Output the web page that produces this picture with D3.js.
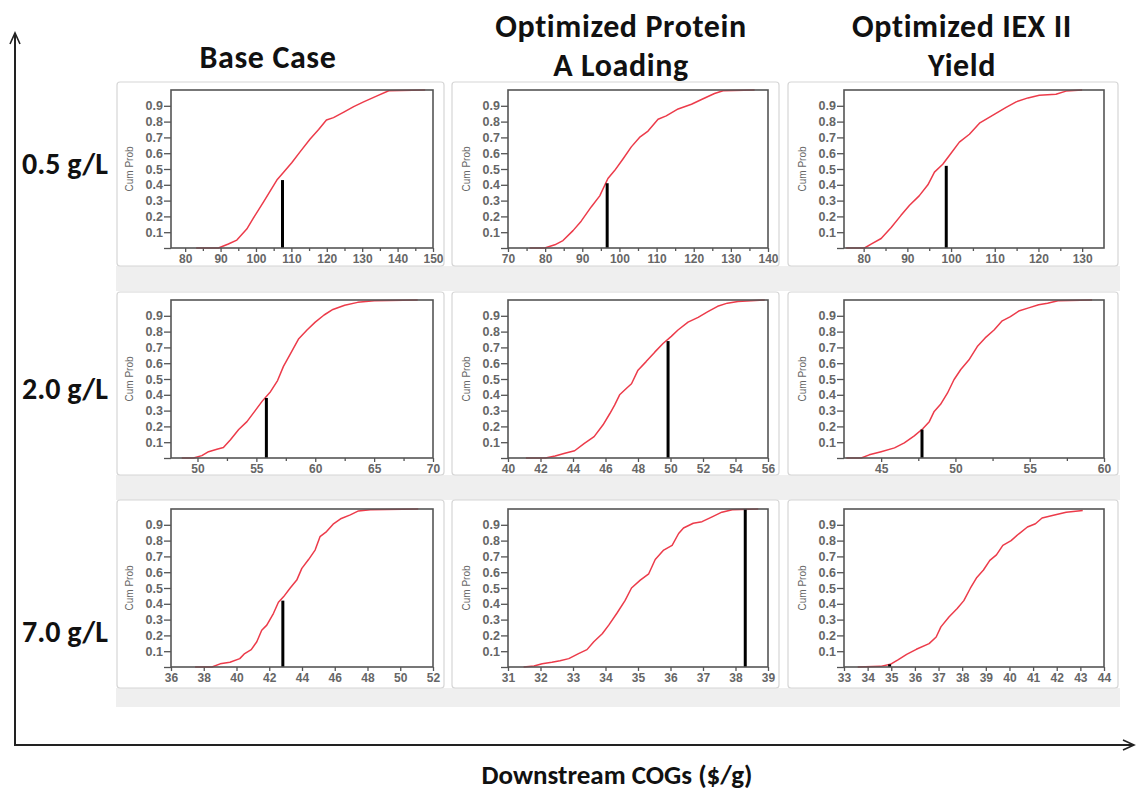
<!DOCTYPE html>
<html>
<head>
<meta charset="utf-8">
<script src="https://cdn.jsdelivr.net/npm/d3@7"></script>
<style>
  html, body { margin: 0; padding: 0; background: #fff; }
  svg { display: block; }
</style>
</head>
<body>
<svg id="chart" width="1136" height="791"></svg>
<script>
// ---------- data ----------
const colTitles = [["Base Case"], ["Optimized Protein", "A Loading"], ["Optimized IEX II", "Yield"]];
const rowLabels = ["0.5 g/L", "2.0 g/L", "7.0 g/L"];
const xAxisTitle = "Downstream COGs ($/g)";
const yAxisLabel = "Cum Prob";
const yTicks = [0.1, 0.2, 0.3, 0.4, 0.5, 0.6, 0.7, 0.8, 0.9];

// cumulative probability curves [COGs, cumProb], row-major (row = titer, col = scenario)
const cdfBase05 = [[83.1,0],[89.4,0],[92.2,0.025],[94.6,0.05],[97.4,0.12],[99.3,0.19],[102.1,0.29],[104.0,0.36],[105.9,0.43],[107.8,0.48],[110.1,0.54],[112.5,0.61],[115.3,0.69],[117.7,0.75],[119.9,0.81],[121.9,0.825],[124.8,0.86],[127.6,0.895],[130.4,0.925],[134.2,0.963],[137.5,0.995],[140.8,0.997],[147.8,1.0]];
const cdfProtA05 = [[75.8,0],[79.9,0],[82.6,0.02],[84.8,0.047],[87.5,0.11],[89.7,0.17],[92.4,0.26],[94.7,0.33],[96.9,0.44],[98.7,0.49],[101.0,0.565],[103.2,0.64],[105.4,0.70],[107.7,0.74],[110.4,0.815],[112.6,0.836],[115.8,0.88],[119.4,0.91],[122.1,0.94],[125.6,0.978],[127.9,0.995],[136.4,1.0]];
const cdfIex05 = [[76.0,0],[80.2,0],[81.7,0.025],[84.0,0.06],[86.3,0.13],[88.5,0.205],[90.5,0.27],[92.7,0.33],[94.7,0.40],[96.2,0.48],[98.1,0.53],[100.0,0.60],[101.9,0.67],[104.2,0.72],[106.5,0.79],[109.5,0.84],[112.6,0.89],[114.9,0.925],[117.6,0.95],[120.2,0.967],[124.0,0.973],[126.3,0.993],[130.0,1.0]];
const cdfBase20 = [[48.66,0],[49.66,0],[50.37,0.015],[50.94,0.04],[51.65,0.055],[52.2,0.066],[52.8,0.115],[53.5,0.18],[54.2,0.23],[54.9,0.30],[55.5,0.36],[56.2,0.42],[56.8,0.49],[57.3,0.58],[57.9,0.66],[58.6,0.755],[59.3,0.81],[60.0,0.86],[60.75,0.905],[61.5,0.94],[62.5,0.967],[63.6,0.985],[65.0,0.995],[68.7,1.0]];
const cdfProtA20 = [[41.1,0],[42.3,0],[42.9,0.013],[43.5,0.03],[44.1,0.046],[44.7,0.093],[45.3,0.135],[45.85,0.21],[46.26,0.28],[46.56,0.335],[46.87,0.40],[47.28,0.44],[47.6,0.47],[48.0,0.556],[48.5,0.61],[49.03,0.67],[49.54,0.725],[50.05,0.77],[50.46,0.81],[51.08,0.86],[51.7,0.89],[52.3,0.926],[52.9,0.96],[53.5,0.98],[54.15,0.99],[55.8,1.0]];
const cdfIex20 = [[42.66,0],[43.66,0],[44.2,0.02],[45.0,0.04],[45.9,0.064],[46.56,0.096],[47.23,0.14],[47.8,0.185],[48.24,0.23],[48.57,0.295],[49.0,0.34],[49.46,0.41],[49.9,0.495],[50.36,0.56],[50.9,0.62],[51.47,0.705],[52.0,0.76],[52.6,0.81],[53.15,0.868],[53.7,0.895],[54.26,0.93],[54.93,0.95],[55.6,0.97],[56.2,0.98],[56.9,0.995],[59.2,1.0]];
const cdfBase70 = [[37.47,0],[38.5,0],[39.0,0.02],[39.6,0.03],[40.2,0.053],[40.5,0.085],[40.9,0.11],[41.24,0.16],[41.54,0.233],[41.85,0.265],[42.26,0.34],[42.56,0.41],[42.87,0.444],[43.28,0.50],[43.68,0.55],[43.99,0.624],[44.4,0.68],[44.8,0.74],[45.1,0.825],[45.5,0.857],[45.9,0.904],[46.4,0.94],[46.95,0.963],[47.45,0.988],[48.17,0.995],[51.1,1.0]];
const cdfProtA70 = [[31.48,0],[31.8,0.006],[32.05,0.02],[32.35,0.03],[32.6,0.04],[32.87,0.053],[33.17,0.085],[33.43,0.11],[33.64,0.16],[33.9,0.21],[34.1,0.265],[34.35,0.34],[34.6,0.42],[34.8,0.50],[35.07,0.55],[35.33,0.59],[35.53,0.68],[35.79,0.74],[36.05,0.77],[36.25,0.845],[36.4,0.88],[36.7,0.91],[36.97,0.92],[37.28,0.95],[37.58,0.98],[37.9,0.995],[38.7,1.0]];
const cdfIex70 = [[33.58,0],[34.55,0.004],[34.96,0.017],[35.3,0.047],[35.65,0.08],[36.06,0.112],[36.6,0.148],[36.9,0.19],[37.1,0.254],[37.44,0.317],[37.79,0.37],[38.07,0.42],[38.34,0.497],[38.62,0.567],[38.9,0.614],[39.17,0.675],[39.45,0.71],[39.72,0.77],[40.07,0.80],[40.4,0.843],[40.76,0.886],[41.1,0.907],[41.38,0.943],[41.86,0.96],[42.4,0.98],[43.1,0.99]];

// marker (black bar) for each panel: COGs value and cum prob height
const markerX = [107.5, 96.7, 98.9, 55.85, 49.85, 47.75, 42.83, 38.3, 34.93];
const markerP = [0.43, 0.41, 0.52, 0.38, 0.74, 0.18, 0.42, 1.0, 0.017];

// x axis domains and ticks per panel
const xDomains = [[76,150],[70,140],[75.5,135],[47.75,70],[40,56],[42.5,60],[36,52],[31,39],[33,44]];
const xTickLabels = [
  [80,90,100,110,120,130,140,150],
  [70,80,90,100,110,120,130,140],
  [80,90,100,110,120,130],
  [50,55,60,65,70],
  [40,42,44,46,48,50,52,54,56],
  [45,50,55,60],
  [36,38,40,42,44,46,48,50,52],
  [31,32,33,34,35,36,37,38,39],
  [33,34,35,36,37,38,39,40,41,42,43,44]
];
const xMinorTicks = [
  [85,95,105,115,125,135,145],
  [75,85,95,105,115,125,135],
  [85,95,105,115,125],
  [52.5,57.5,62.5,67.5],
  [],
  [47.5,52.5,57.5],
  [], [], []
];

const curves = [cdfBase05, cdfProtA05, cdfIex05, cdfBase20, cdfProtA20, cdfIex20, cdfBase70, cdfProtA70, cdfIex70];

// ---------- layout ----------
const svg = d3.select("#chart");
const plotLeft = [171, 508, 844], plotRight = [433, 768, 1104];
const plotTop = [90, 300, 509], plotBottom = [248, 458, 667];
const boxLeft = [117, 452, 788], boxRight = [444, 779, 1118];
const boxTop = [82, 292, 500], boxBottom = [266, 475, 688];
const titleFont = "Calibri, Carlito, Lato, 'Open Sans', sans-serif";
const smallFont = "Arial, 'Liberation Sans', sans-serif";

// gray strips between rows
const strips = [[266, 291], [475, 500], [688, 707]];
svg.selectAll("rect.strip").data(strips).join("rect")
  .attr("class", "strip")
  .attr("x", 116).attr("width", 1004)
  .attr("y", d => d[0]).attr("height", d => d[1] - d[0])
  .attr("fill", "#efefef");

// panel boxes
for (let r = 0; r < 3; r++) {
  for (let c = 0; c < 3; c++) {
    svg.append("rect")
      .attr("x", boxLeft[c]).attr("y", boxTop[r])
      .attr("width", boxRight[c] - boxLeft[c]).attr("height", boxBottom[r] - boxTop[r])
      .attr("rx", 3)
      .attr("fill", "#fff").attr("stroke", "#d6d6d6").attr("stroke-width", 1.2);
  }
}

// panels
curves.forEach((data, i) => {
  const r = Math.floor(i / 3), c = i % 3;
  const x = d3.scaleLinear().domain(xDomains[i]).range([plotLeft[c], plotRight[c]]);
  const y = d3.scaleLinear().domain([0, 1]).range([plotBottom[r], plotTop[r]]);
  const g = svg.append("g");

  // y axis
  const ya = g.append("g").attr("transform", `translate(${plotLeft[c]},0)`)
    .call(d3.axisLeft(y).tickValues([0].concat(yTicks)).tickSize(7).tickPadding(1)
      .tickFormat(d => d === 0 ? "" : d3.format(".1f")(d)));
  ya.select(".domain").remove();
  ya.selectAll("line").attr("stroke", "#555").attr("stroke-width", 1.3);
  ya.selectAll("text").attr("font-family", smallFont).attr("font-size", 12.5)
    .attr("font-weight", "bold").attr("fill", "#666");

  // x axis
  const xa = g.append("g").attr("transform", `translate(0,${plotBottom[r]})`)
    .call(d3.axisBottom(x).tickValues(xTickLabels[i]).tickSize(4).tickPadding(2).tickFormat(d3.format("d")));
  xa.select(".domain").remove();
  xa.selectAll("line").attr("stroke", "#555").attr("stroke-width", 1.3);
  xa.selectAll("text").attr("font-family", smallFont).attr("font-size", 12)
    .attr("font-weight", "bold").attr("fill", "#666");
  if (xMinorTicks[i].length) {
    const xm = g.append("g").attr("transform", `translate(0,${plotBottom[r]})`)
      .call(d3.axisBottom(x).tickValues(xMinorTicks[i]).tickSize(3).tickFormat(""));
    xm.select(".domain").remove();
    xm.selectAll("line").attr("stroke", "#555").attr("stroke-width", 1.3);
  }

  // y label
  g.append("text")
    .attr("transform", `translate(${plotLeft[c] - 38},${(plotTop[r] + plotBottom[r]) / 2}) rotate(-90)`)
    .attr("text-anchor", "middle")
    .attr("font-family", smallFont).attr("font-size", 10).attr("fill", "#666")
    .text(yAxisLabel);

  // curve
  g.append("path").datum(data)
    .attr("d", d3.line().x(d => x(d[0])).y(d => y(d[1])))
    .attr("fill", "none").attr("stroke", "#ec3b4a").attr("stroke-width", 1.5)
    .attr("stroke-linejoin", "round");

  // marker
  g.append("line")
    .attr("x1", x(markerX[i])).attr("x2", x(markerX[i]))
    .attr("y1", y(0)).attr("y2", y(markerP[i]))
    .attr("stroke", "#000").attr("stroke-width", 3);

  // frame
  g.append("rect")
    .attr("x", plotLeft[c]).attr("y", plotTop[r])
    .attr("width", plotRight[c] - plotLeft[c]).attr("height", plotBottom[r] - plotTop[r])
    .attr("fill", "none").attr("stroke", "#555").attr("stroke-width", 1.6);
});

// column titles (each line as its own text element)
const titleX = [268, 621, 962];
colTitles.forEach((lines, c) => {
  const baselines = lines.length === 1 ? [68] : [37, 76];
  lines.forEach((s, k) => {
    svg.append("text").attr("text-anchor", "middle")
      .attr("x", titleX[c]).attr("y", baselines[k])
      .attr("font-family", titleFont).attr("font-weight", "bold").attr("font-size", 32)
      .attr("letter-spacing", 0.6).attr("fill", "#111")
      .text(s);
  });
});

// row labels
const rowY = [174, 399, 642];
rowLabels.forEach((s, r) => {
  svg.append("text").attr("x", 22).attr("y", rowY[r])
    .attr("font-family", titleFont).attr("font-weight", "bold").attr("font-size", 30).attr("fill", "#111")
    .text(s);
});

// outer arrows
const axCol = "#222";
svg.append("path").attr("d", "M15,745 L15,33").attr("stroke", axCol).attr("stroke-width", 2).attr("fill", "none");
svg.append("path").attr("d", "M10,44 L15,33 L20,44").attr("stroke", axCol).attr("stroke-width", 1.6).attr("fill", "none");
svg.append("path").attr("d", "M14,745 L1133,745").attr("stroke", axCol).attr("stroke-width", 2).attr("fill", "none");
svg.append("path").attr("d", "M1123,740 L1134,745 L1123,750").attr("stroke", axCol).attr("stroke-width", 1.6).attr("fill", "none");

svg.append("text").attr("x", 617).attr("y", 784).attr("text-anchor", "middle")
  .attr("font-family", titleFont).attr("font-weight", "bold").attr("font-size", 27).attr("fill", "#111")
  .text(xAxisTitle);
</script>
</body>
</html>
